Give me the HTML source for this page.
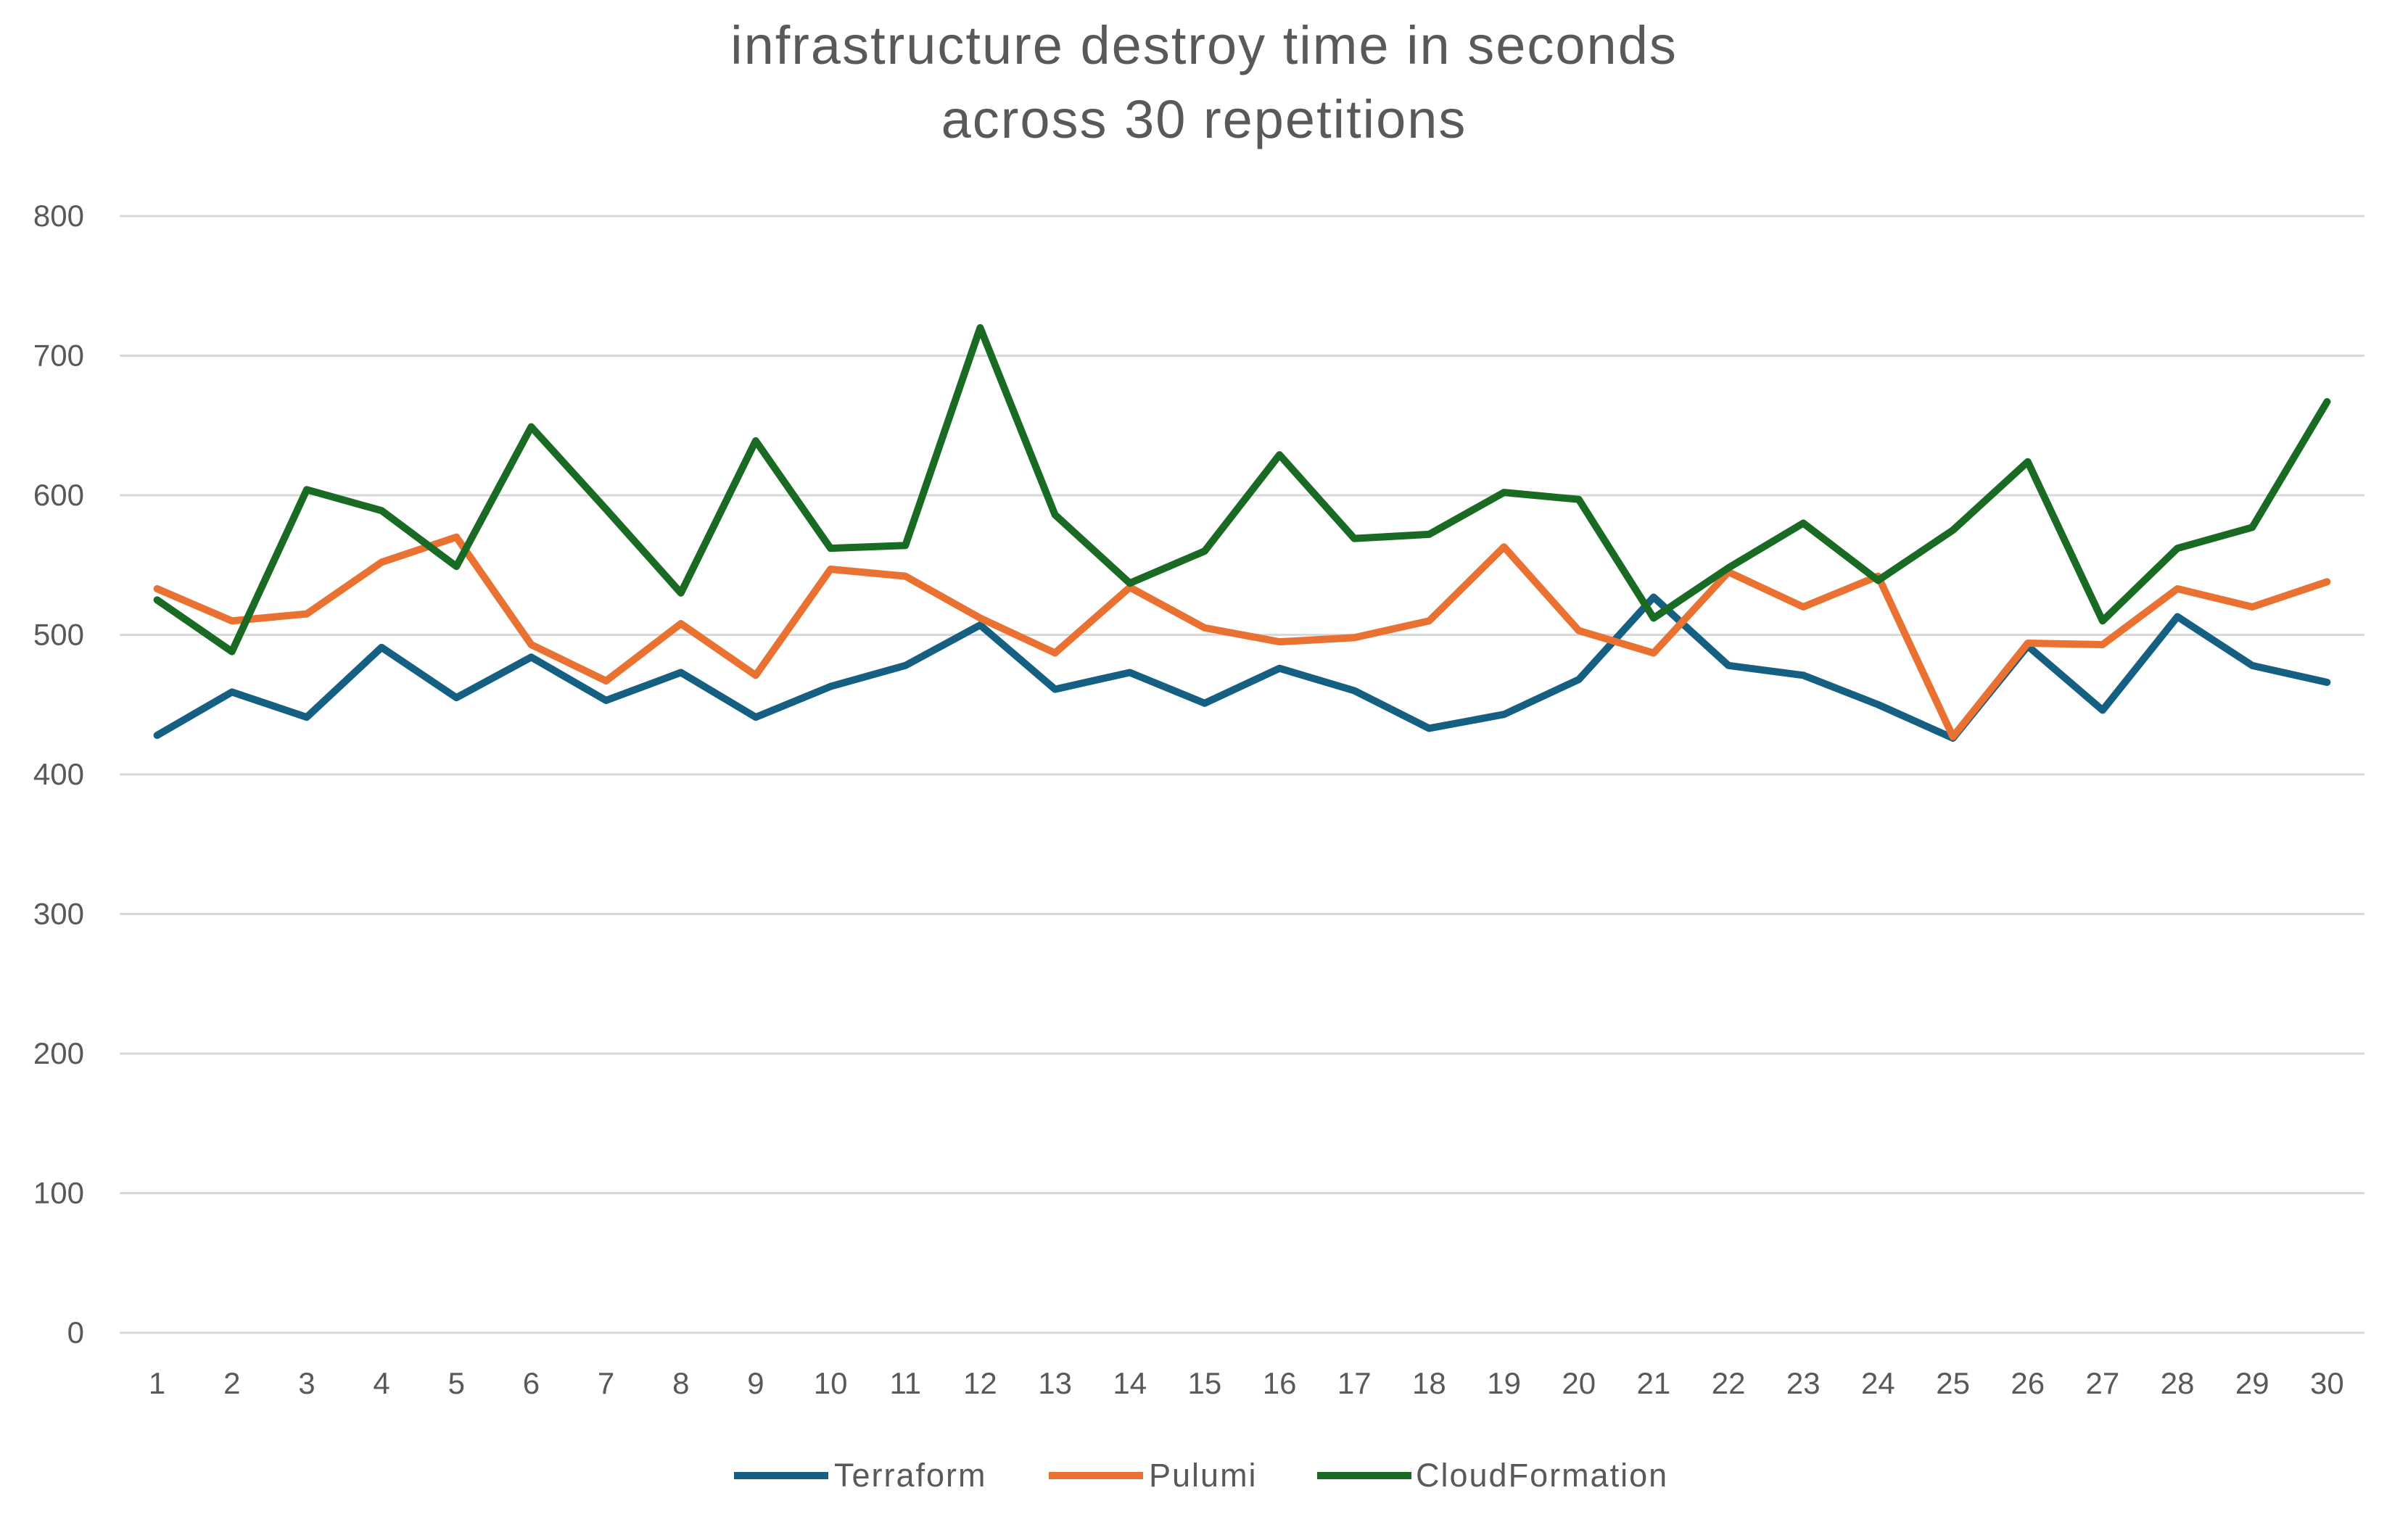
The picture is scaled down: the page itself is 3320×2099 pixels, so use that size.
<!DOCTYPE html>
<html><head><meta charset="utf-8"><style>
html,body{margin:0;padding:0;background:#fff;width:3320px;height:2099px;overflow:hidden}
svg{display:block;font-family:"Liberation Sans",sans-serif}
</style></head><body>
<svg id="chart" width="3320" height="2099" viewBox="0 0 3320 2099" xmlns="http://www.w3.org/2000/svg">
<text x="1660" y="88" text-anchor="middle" font-size="74" letter-spacing="2" fill="#595959">infrastructure destroy time in seconds</text>
<text x="1660" y="190" text-anchor="middle" font-size="74" letter-spacing="2" fill="#595959">across 30 repetitions</text>
<g id="grid"></g><g id="ylabels"></g><g id="xlabels"></g><g id="lines"></g><g id="legend"></g>
</svg>
<script>
const categories=[1,2,3,4,5,6,7,8,9,10,11,12,13,14,15,16,17,18,19,20,21,22,23,24,25,26,27,28,29,30];
const terraform=[428,459,441,491,455,484,453,473,441,463,478,507,461,473,451,476,460,433,443,468,527,478,471,450,426,492,446,513,478,466];
const pulumi=[533,510,515,552,570,493,467,508,471,547,542,512,487,534,505,495,498,510,563,503,487,545,520,542,427,494,493,533,520,538];
const cloudformation=[525,488,604,589,549,649,590,530,639,562,564,720,586,537,560,629,569,572,602,597,512,548,580,539,575,624,510,562,577,667];
const yTicks=[0,100,200,300,400,500,600,700,800];
const seriesNames=["Terraform","Pulumi","CloudFormation"];
const seriesColors=["#156082","#e97132","#196b24"];
const NS="http://www.w3.org/2000/svg";
const L=165,R=3260,T=298,B=1838;
const step=(R-L)/categories.length;
function xs(i){return L+step*(i+0.5);}
function ys(v){return B-(v/800)*(B-T);}
function mk(tag,attrs,parent){const e=document.createElementNS(NS,tag);for(const k in attrs)e.setAttribute(k,attrs[k]);parent.appendChild(e);return e;}
const grid=document.getElementById('grid'),yl=document.getElementById('ylabels'),xl=document.getElementById('xlabels'),lines=document.getElementById('lines'),leg=document.getElementById('legend');
yTicks.forEach(t=>{
 const g=mk('line',{x1:L,x2:R,y1:ys(t),y2:ys(t),stroke:'#d9d9d9','stroke-width':3},grid);
 
 
 const tx=mk('text',{x:116,y:ys(t)+14,'text-anchor':'end','font-size':42,fill:'#595959'},yl);
 tx.textContent=t;
 
 
});
categories.forEach((c,i)=>{
 const tx=mk('text',{x:xs(i),y:1922,'text-anchor':'middle','font-size':42,fill:'#595959'},xl);
 tx.textContent=c;
 
 
});
[terraform,pulumi,cloudformation].forEach((s,k)=>{
 const p=mk('polyline',{points:s.map((v,i)=>xs(i)+','+ys(v)).join(' '),fill:'none',stroke:seriesColors[k],'stroke-width':10,'stroke-linejoin':'round','stroke-linecap':'round'},lines);
 
 
});
const lx=[1012,1446,1816],tx0=[1150,1584,1952];
seriesNames.forEach((n,k)=>{
 const ln=mk('line',{x1:lx[k],x2:lx[k]+130,y1:2035,y2:2035,stroke:seriesColors[k],'stroke-width':10},leg);
 
 
 const t=mk('text',{x:tx0[k],y:2050,'font-size':45,'letter-spacing':2,fill:'#595959'},leg);
 t.textContent=n;
 
 
});
</script>
</body></html>
